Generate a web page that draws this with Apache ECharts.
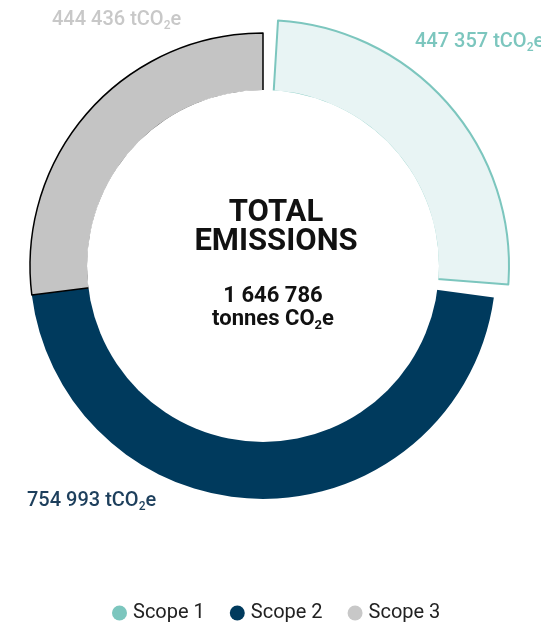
<!DOCTYPE html>
<html>
<head>
<meta charset="utf-8">
<style>
  html, body { margin: 0; padding: 0; background: #ffffff; }
  #chart { width: 541px; height: 622px; }
</style>
<script src="https://cdn.jsdelivr.net/npm/echarts@6/dist/echarts.min.js"></script>
</head>
<body>
<div id="chart"></div>
<script>
// Emissions by scope, tonnes CO2e
const scopeNames = ['Scope 1', 'Scope 2', 'Scope 3'];
const scopeValues = [447357, 754993, 444436];
const totalEmissions = 1646786;

// Number formatting with a space as thousands separator
function fmt(v) {
  return String(v).replace(/\B(?=(\d{3})+(?!\d))/g, ' ');
}

const FONT = 'Roboto, "Noto Sans", sans-serif';
const TEAL = '#7cc6be';
const TEAL_FILL = '#e8f4f4';
const NAVY = '#003a5d';
const GREY = '#c4c4c4';
const sliceColors = [TEAL, NAVY, GREY];

// Value labels sit around the ring: [x, y, align]
const labelAnchors = [
  [415, 42, 'left'],
  [27, 501, 'left'],
  [52, 20, 'left']
];

function richFor(color, size) {
  return {
    v: { color: color, fontSize: size, fontWeight: 500, fontFamily: FONT },
    s: { color: color, fontSize: Math.round(size * 0.58), fontWeight: 500, fontFamily: FONT, padding: [Math.round(size * 0.55), 0, 0, 0] }
  };
}

const ringData = scopeNames.map((name, i) => ({
  name: name,
  value: scopeValues[i],
  itemStyle: i === 0
    ? { color: 'rgba(0,0,0,0)' }
    : (i === 2 ? { color: GREY, borderColor: '#000000', borderWidth: 1.5 } : { color: NAVY }),
  label: {
    show: true,
    overflow: 'none',
    formatter: '{v|' + fmt(scopeValues[i]) + ' tCO}{s|2}{v|e}',
    rich: richFor(i === 0 ? TEAL : (i === 1 ? '#1d3f5c' : '#c8c8c8'), 20)
  }
}));

const scope1Data = scopeNames.map((name, i) => ({
  name: name,
  value: scopeValues[i],
  itemStyle: i === 0
    ? { color: TEAL_FILL, borderColor: TEAL, borderWidth: 2 }
    : { color: 'rgba(0,0,0,0)', borderWidth: 0 }
}));

const chart = echarts.init(document.getElementById('chart'), null, { renderer: 'canvas' });

chart.setOption({
  animation: false,
  backgroundColor: '#ffffff',
  title: [
    {
      text: 'TOTAL\nEMISSIONS',
      left: 271, top: 194, textAlign: 'center',
      textStyle: { fontFamily: FONT, fontSize: 31, fontWeight: 'bold', color: '#111111', lineHeight: 29 },
      z: 10
    },
    {
      text: '{b|' + fmt(totalEmissions) + '}\n{b|tonnes CO}{s|2}{b|e}',
      left: 268, top: 280, textAlign: 'center',
      textStyle: {
        rich: {
          b: { fontFamily: FONT, fontSize: 22, fontWeight: 'bold', color: '#111111', lineHeight: 23 },
          s: { fontFamily: FONT, fontSize: 13, fontWeight: 'bold', color: '#111111', padding: [12, 0, 0, 0], lineHeight: 23 }
        }
      },
      z: 10
    }
  ],
  legend: {
    data: scopeNames.map((n, i) => ({ name: n, itemStyle: { color: i === 2 ? '#c8c8c8' : sliceColors[i], borderWidth: 0 } })),
    icon: 'circle',
    itemWidth: 15,
    itemHeight: 15,
    itemGap: 25,
    left: 107,
    top: 597,
    textStyle: { fontFamily: FONT, fontSize: 20, color: '#222222', lineHeight: 22, padding: [0, 0, 0, 1] }
  },
  series: [
    {
      type: 'pie',
      name: 'ring',
      center: [263, 266],
      radius: [175, 233],
      startAngle: 90,
      clockwise: true,
      data: ringData,
      labelLine: { show: false },
      emphasis: { disabled: true },
      labelLayout: function (params) {
        const a = labelAnchors[params.dataIndex];
        return { x: a[0], y: a[1], align: a[2], verticalAlign: 'middle' };
      },
      z: 2
    },
    {
      type: 'pie',
      name: 'scope1',
      center: [263, 266],
      radius: [175, 246],
      startAngle: 90,
      clockwise: true,
      padAngle: 7,
      data: scope1Data,
      label: { show: false },
      labelLine: { show: false },
      emphasis: { disabled: true },
      silent: true,
      z: 3
    },
    {
      // white core hides the inner edges of the slice outlines
      type: 'pie',
      name: 'core',
      center: [263, 266],
      radius: [0, 176],
      data: [{ value: 1, name: '' }],
      itemStyle: { color: '#ffffff' },
      label: { show: false },
      labelLine: { show: false },
      emphasis: { disabled: true },
      silent: true,
      z: 4
    }
  ]
});
</script>
</body>
</html>
